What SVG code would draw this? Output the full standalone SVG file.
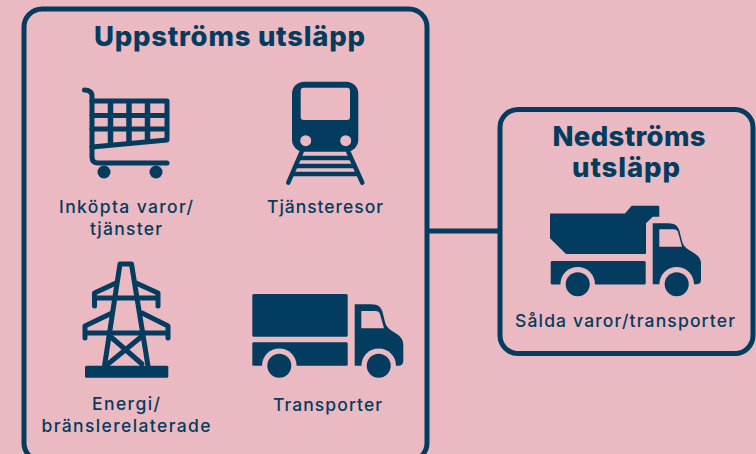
<svg xmlns="http://www.w3.org/2000/svg" width="756" height="454" viewBox="0 0 756 454">
<style>
.box{fill:none;stroke:#033c5e;stroke-width:5}
.f{fill:#033c5e}
.bg{fill:#ebb9c1}
.l{fill:none;stroke:#033c5e;stroke-width:5;stroke-linecap:round;stroke-linejoin:round}
.h{font-family:"Inter","Liberation Sans",sans-serif;font-weight:800;font-size:27.500px;fill:#033c5e;text-anchor:middle}
.t{font-family:"Inter","Liberation Sans",sans-serif;font-weight:500;font-size:17.500px;fill:#033c5e;text-anchor:middle}
</style>
<defs>
<g id="wheel-cut"><circle r="17.3" class="bg"/><circle r="12" class="f"/></g>
</defs>
<rect class="bg" width="756" height="454"/>
<g id="connectors"><line x1="428" y1="231" x2="499" y2="231" stroke="#033c5e" stroke-width="5"/></g>
<g id="upstream">
<rect class="box" x="24" y="9" width="403" height="452" rx="18"/>
<text class="h" x="229.500" y="46" textLength="271">Uppströms utsläpp</text>
</g>
<g id="downstream">
<rect class="box" x="500" y="109.500" width="253" height="244" rx="18"/>
<text class="h" x="629" y="146" textLength="153">Nedströms</text>
<text class="h" x="626" y="177" textLength="108">utsläpp</text>
</g>
<g id="inkopta">
<path class="l" d="M84.500 90C89 90 92 92 92 96V157Q92 163 98 163H167"/>
<path class="l" d="M92 101H167V140L92 147M92 115.500H167M92 129H167"/>
<path class="l" style="stroke-width:5.500;stroke-linecap:butt" d="M110.500 101V146M129 101V144.500M147.500 101V143"/>
<circle class="f" cx="104" cy="172" r="6.500"/><circle class="f" cx="156" cy="172" r="6.500"/>
<text class="t" x="126" y="213" textLength="134">Inköpta varor/</text>
<text class="t" x="126" y="235" textLength="72">tjänster</text>
</g>
<g id="tjansteresor">
<rect class="f" x="292" y="81.700" width="66.300" height="70" rx="12"/>
<rect class="bg" x="300.700" y="87.700" width="49.300" height="32.300" rx="3"/>
<circle class="bg" cx="305.700" cy="140.700" r="5.500"/><circle class="bg" cx="345.700" cy="140.700" r="5.500"/>
<path class="l" style="stroke-width:4.500" d="M301.700 151.700L288.300 182.700M348.300 151.700L362.300 182.700"/>
<path class="l" style="stroke-width:4.500;stroke-linecap:butt" d="M299 158H351M296 166H355M292.500 174H358"/>
<text class="t" x="325" y="213" textLength="116">Tjänsteresor</text>
</g>
<g id="energi">
<path class="l" d="M120 264H131.500L148 366M120 264L104.500 366"/>
<path class="l" d="M116 283L94.500 293V306M94.500 298H158M136 283L158 293V306"/>
<path class="l" d="M112 313L85 326V338M85 333H168M142 313L168 326V338"/>
<path class="l" d="M111 337L142 364M141 337L108 364"/>
<rect class="f" x="85" y="365.700" width="83.300" height="12" rx="1.500"/>
<text class="t" x="126" y="410" textLength="68">Energi/</text>
<text class="t" x="126" y="432" textLength="169">bränslerelaterade</text>
</g>
<g id="transporter">
<rect class="f" x="252.300" y="294" width="95.400" height="42.700" rx="1.500"/>
<rect class="f" x="252.300" y="342.300" width="95.400" height="23.400" rx="1.500"/>
<path class="f" d="M354.700 304.300H371C378 304.300 381 307 382.500 312L385 322C386 326 388 328 392 331C399 335 403.300 338 403.300 345V361Q403.300 365.700 398 365.700H354.700Z"/>
<path class="bg" d="M361.300 311H375.500Q379 311 380 314L384 328.300H361.300Z"/>
<use href="#wheel-cut" x="279.300" y="365.700"/>
<use href="#wheel-cut" x="378.700" y="365.700"/>
<text class="t" x="327.500" y="411" textLength="109">Transporter</text>
</g>
<g id="salda">
<path class="f" d="M551 213.500H625L631.700 205.700H658Q659.300 205.700 659.300 207V216.700H652.700L646 223.300V253Q646 254 645 254H566L550 238.300V214.500Q550 213.500 551 213.500Z"/>
<rect class="f" x="550.700" y="261" width="95" height="23.400" rx="1.500"/>
<path class="f" d="M652.700 223.300H668C675 223.300 678 226 679.500 231L682 241C683 245 685 247 689 250C696 254 701 257 701 264V280Q701 284.300 696 284.300H652.700Z"/>
<path class="bg" d="M659.300 229.300H673.500Q677 229.300 678 232L682 246.700H659.300Z"/>
<use href="#wheel-cut" x="577.700" y="284.300"/>
<use href="#wheel-cut" x="676.700" y="284.300"/>
<text class="t" x="625" y="327" textLength="220">Sålda varor/transporter</text>
</g>
</svg>
